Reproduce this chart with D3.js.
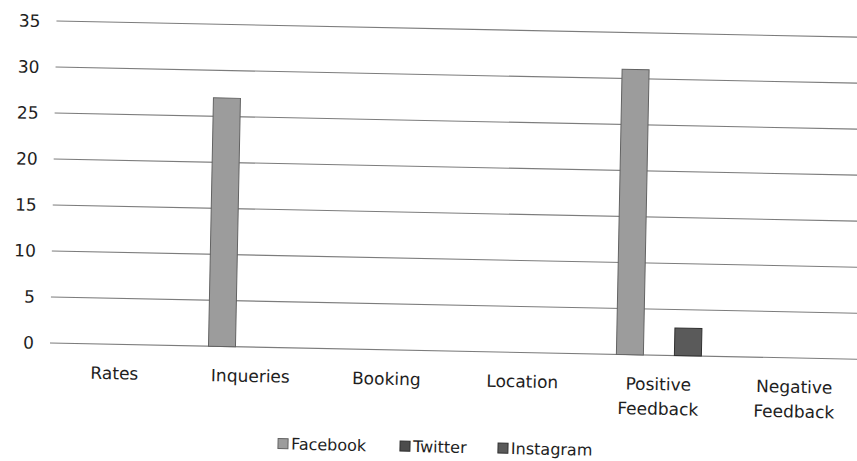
<!DOCTYPE html>
<html>
<head>
<meta charset="utf-8">
<script src="https://cdn.jsdelivr.net/npm/d3@7"></script>
<style>
	html, body { margin: 0; padding: 0; background: #fff; }
	#chart { width: 857px; height: 461px; overflow: hidden; }
	text { font-family: 'DejaVu Sans', sans-serif; fill: #1e1e1e; }
</style>
</head>
<body>
<div id="chart"></div>
<script>
'use strict';

var categories = ['Rates', 'Inqueries', 'Booking', 'Location', 'Positive Feedback', 'Negative Feedback'];
var seriesNames = ['Facebook', 'Twitter', 'Instagram'];
var facebook = [0, 27, 0, 0, 31, 0];
var twitter = [0, 0, 0, 0, 0, 0];
var instagram = [0, 0, 0, 0, 3, 0];
var yTicks = [0, 5, 10, 15, 20, 25, 30, 35];

var seriesValues = [facebook, twitter, instagram];
var fills = ['#9c9c9c', '#4c4c4c', '#5a5a5a'];
var strokes = ['#626262', '#2e2e2e', '#303030'];

var el = document.getElementById('chart');
var width = 857;
var height = 461;

var svg = d3.select(el).append('svg')
	.attr('width', width)
	.attr('height', height);

// the scan is tilted a little, so the whole chart is turned round the origin
var g = svg.append('g')
	.attr('transform', 'rotate(1.15, 50, 343)');

var x = d3.scaleBand()
	.domain(categories)
	.range([47, 863]);

var xSub = d3.scaleBand()
	.domain(seriesNames)
	.range([-42.5, 42.5])
	.paddingInner(0.069);

var y = d3.scaleLinear()
	.domain([0, 35])
	.range([343, 21]);

// gridlines
g.append('g').selectAll('line')
	.data(yTicks)
	.enter().append('line')
		.attr('x1', 50)
		.attr('x2', 880)
		.attr('y1', function(d){ return y(d); })
		.attr('y2', function(d){ return y(d); })
		.attr('stroke', '#7c7c7c')
		.attr('stroke-width', 1.1);

// y labels
g.append('g').selectAll('text')
	.data(yTicks)
	.enter().append('text')
		.attr('x', 34)
		.attr('y', function(d){ return y(d); })
		.attr('dy', '0.36em')
		.attr('text-anchor', 'end')
		.style('font-size', '17px')
		.text(function(d){ return d; });

// bars
var rows = [];
categories.forEach(function(c, i){
	seriesNames.forEach(function(s, j){
		rows.push({cat: c, series: s, idx: j, value: seriesValues[j][i]});
	});
});

g.append('g').selectAll('rect')
	.data(rows.filter(function(d){ return d.value > 0; }))
	.enter().append('rect')
		.attr('x', function(d){ return x(d.cat) + x.bandwidth() / 2 + xSub(d.series); })
		.attr('y', function(d){ return y(d.value); })
		.attr('width', xSub.bandwidth())
		.attr('height', function(d){ return y(0) - y(d.value); })
		.attr('fill', function(d){ return fills[d.idx]; })
		.attr('stroke', function(d){ return strokes[d.idx]; })
		.attr('stroke-width', 1);

// category labels, split on the space for two word names
var labels = g.append('g').selectAll('text')
	.data(categories)
	.enter().append('text')
		.attr('x', function(d){ return x(d) + x.bandwidth() / 2; })
		.attr('y', 372)
		.attr('text-anchor', 'middle')
		.style('font-size', '17px');

labels.selectAll('tspan')
	.data(function(d){ return d.split(' '); })
	.enter().append('tspan')
		.attr('x', function(){ var p = this.parentNode.__data__; return x(p) + x.bandwidth() / 2; })
		.attr('dy', function(d, i){ return i === 0 ? '0.35em' : '1.45em'; })
		.text(function(d){ return d; });

// legend
var legendX = [280, 402, 500];
var legend = g.append('g').selectAll('g')
	.data(seriesNames)
	.enter().append('g')
		.attr('transform', function(d, i){ return 'translate(' + legendX[i] + ',' + 434 + ')'; });

legend.append('rect')
	.attr('width', 10)
	.attr('height', 10)
	.attr('fill', function(d, i){ return fills[i]; })
	.attr('stroke', function(d, i){ return strokes[i]; });

legend.append('text')
	.attr('x', 13)
	.attr('y', 5)
	.attr('dy', '0.36em')
	.style('font-size', '16px')
	.text(function(d){ return d; });
</script>
</body>
</html>
